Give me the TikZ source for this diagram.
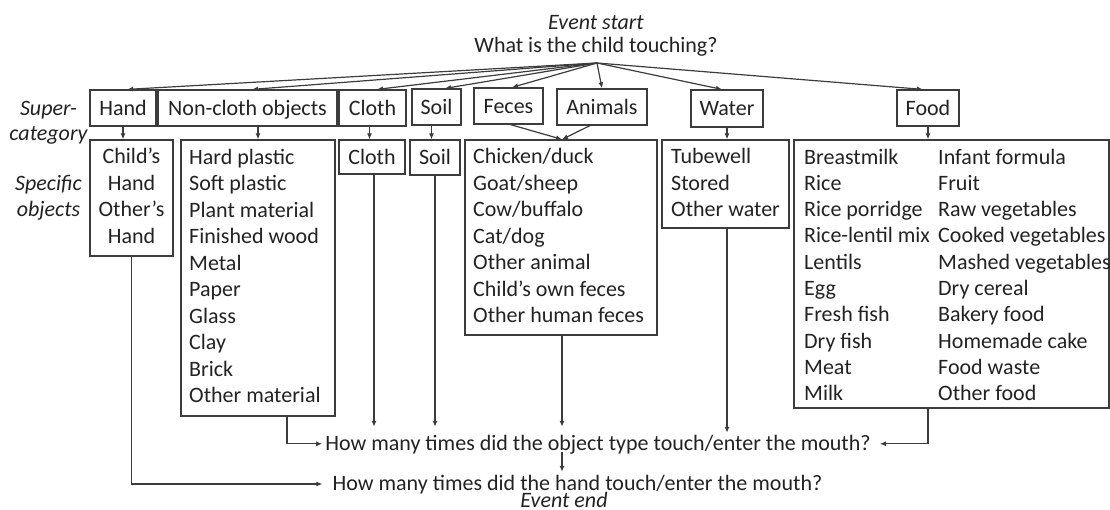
\documentclass[tikz,border=0pt]{standalone}
\usepackage{fontspec}
\setmainfont{Carlito}
\usetikzlibrary{arrows.meta}
\definecolor{txt}{RGB}{34,34,34}
\definecolor{lncol}{RGB}{60,60,60}
\newcommand\ff{\fontsize{22}{26.5}\selectfont}
\begin{document}
\begin{tikzpicture}[x=1pt,y=-1pt,
  every node/.style={text=txt, font=\ff},
  box/.style={draw=lncol, line width=1.2pt, inner sep=0pt, text height=14.2pt, text depth=0pt},
  lbox/.style={draw=lncol, line width=1.2pt, inner sep=0pt},
  lst/.style={anchor=north west, inner sep=0pt, align=left},
  arr/.style={draw=lncol, line width=1.2pt, -{Latex[length=6pt,width=5pt]}}
]
\useasboundingbox (0,0) rectangle (1110,510);
% title
\node[anchor=north, inner sep=0pt, align=center, font=\fontsize{22}{21.5}\selectfont] (start) at (596,14.05) {\strut\textit{Event start}\\What is the child touching?};
\coordinate (hub) at (597,63);
% side labels
\node[anchor=north, inner sep=0pt, align=center, font=\fontsize{22}{25.5}\selectfont\itshape] (superlab) at (48.5,97.25) {\strut Super-\\category};
\node[anchor=north, inner sep=0pt, align=center, font=\fontsize{22}{25.5}\selectfont\itshape] (speclab) at (48.5,172.55) {\strut Specific\\objects};
% super categories
\node[box, minimum width=66pt, minimum height=36pt] (hand) at (123,108) {Hand};
\node[box, minimum width=179pt, minimum height=36pt] (nc) at (247.5,108) {Non-cloth objects};
\node[box, minimum width=67pt, minimum height=36pt] (cloth) at (372.5,108) {Cloth};
\node[box, minimum width=49pt, minimum height=36pt] (soil) at (436.5,107) {Soil};
\node[box, minimum width=69pt, minimum height=36pt] (feces) at (508.5,106) {Feces};
\node[box, minimum width=90pt, minimum height=36pt] (animals) at (602,107) {Animals};
\node[box, minimum width=72pt, minimum height=37pt] (water) at (727,108.5) {Water};
\node[box, minimum width=62pt, minimum height=36pt] (food) at (928,108) {Food};
% specific boxes
\node[lbox, minimum width=83pt, minimum height=116pt] (handlst) at (131.5,198) {};
\node[lbox, minimum width=154pt, minimum height=276pt] (ncl) at (258,278) {};
\node[box, minimum width=66pt, minimum height=34pt] (clothlst) at (372,157) {Cloth};
\node[box, minimum width=50pt, minimum height=35pt] (soillst) at (435,157.5) {Soil};
\node[lbox, minimum width=192pt, minimum height=195pt] (anl) at (561,237.5) {};
\node[lbox, minimum width=127pt, minimum height=88pt] (wl) at (725.5,184) {};
\node[lbox, minimum width=315pt, minimum height=268pt] (fl) at (951.5,274) {};
% list texts
\node[anchor=north, inner sep=0pt, align=center] (handtxt) at (131.5,145.25) {\strut Child’s\\Hand\\Other’s\\Hand};
\node[lst] (nctxt) at (189,145.25) {\strut Hard plastic\\Soft plastic\\Plant material\\Finished wood\\Metal\\Paper\\Glass\\Clay\\Brick\\Other material};
\node[lst] (antxt) at (473,145.25) {\strut Chicken/duck\\Goat/sheep\\Cow/buffalo\\Cat/dog\\Other animal\\Child’s own feces\\Other human feces};
\node[lst] (wtxt) at (671,145.25) {\strut Tubewell\\Stored\\Other water};
\node[lst, font=\fontsize{22}{26.3}\selectfont] (fatxt) at (804,145.4) {\strut Breastmilk\\Rice\\Rice porridge\\Rice-lentil mix\\Lentils\\Egg\\Fresh fish\\Dry fish\\Meat\\Milk};
\node[lst, font=\fontsize{22}{26.3}\selectfont] (fbtxt) at (938,145.4) {\strut Infant formula\\Fruit\\Raw vegetables\\Cooked vegetables\\Mashed vegetables\\Dry cereal\\Bakery food\\Homemade cake\\Food waste\\Other food};
% bottom questions
\node[anchor=base, inner xsep=3pt, inner ysep=7.5pt, text height=15.6pt, text depth=5pt] (oq) at (598,450.1) {How many times did the object type touch/enter the mouth?};
\node[anchor=base, inner xsep=3pt, inner ysep=0pt, text height=18pt, text depth=1pt] (hq) at (577.5,490) {How many times did the hand touch/enter the mouth?};
\node[anchor=base, inner sep=0pt, font=\ff\itshape, text height=12pt, text depth=0pt] (evend) at (564,507) {Event end};
% top arrows
\draw[arr] (hub) -- ([xshift=4pt]hand.north);
\draw[arr] (hub) -- ([xshift=4.5pt]nc.north);
\draw[arr] (hub) -- ([xshift=4.5pt]cloth.north);
\draw[arr] (hub) -- ([xshift=8.5pt]soil.north);
\draw[arr] (hub) -- ([xshift=3.5pt]feces.north);
\draw[arr] (hub) -- (animals.north);
\draw[arr] (hub) -- ([xshift=-5pt]water.north);
\draw[arr] (hub) -- ([xshift=-5pt]food.north);
% super to specific
\draw[arr] (hand.south) -- (hand.south |- handlst.north);
\draw[arr] (ncl.north |- nc.south) -- (ncl.north);
\draw[arr] ([xshift=-3pt]cloth.south) -- ([xshift=-3pt]cloth.south |- clothlst.north);
\draw[arr] ([xshift=-5pt]soil.south) -- ([xshift=-5pt]soil.south |- soillst.north);
\draw[arr] ([xshift=2pt]feces.south) -- ([xshift=1pt]anl.north);
\draw[arr] ([xshift=-12pt]animals.south) -- ([xshift=1pt]anl.north);
\draw[arr] (water.south) -- (water.south |- wl.north);
\draw[arr] (food.south) -- (food.south |- fl.north);
% specific to question
\draw[arr] ([xshift=2pt]clothlst.south) -- ([xshift=2pt]clothlst.south |- oq.north);
\draw[arr] (soillst.south) -- (soillst.south |- oq.north);
\draw[arr] ([xshift=1pt]anl.south) -- ([xshift=1pt]anl.south |- oq.north);
\draw[arr] ([xshift=1.5pt]wl.south) -- ([xshift=1.5pt,yshift=-6pt]wl.south |- oq.north);
\draw[arr] ([xshift=29pt]ncl.south) |- ([yshift=1pt]oq.west);
\draw[arr] (fl.south -| food.south) |- ([xshift=6pt,yshift=1pt]oq.east);
\draw[arr] (handlst.south) |- ([xshift=-7pt,yshift=-2.5pt]hq.west);
\coordinate (oqb) at (562,452);
\draw[arr] (oqb) -- (oqb |- hq.north);
\end{tikzpicture}
\end{document}
